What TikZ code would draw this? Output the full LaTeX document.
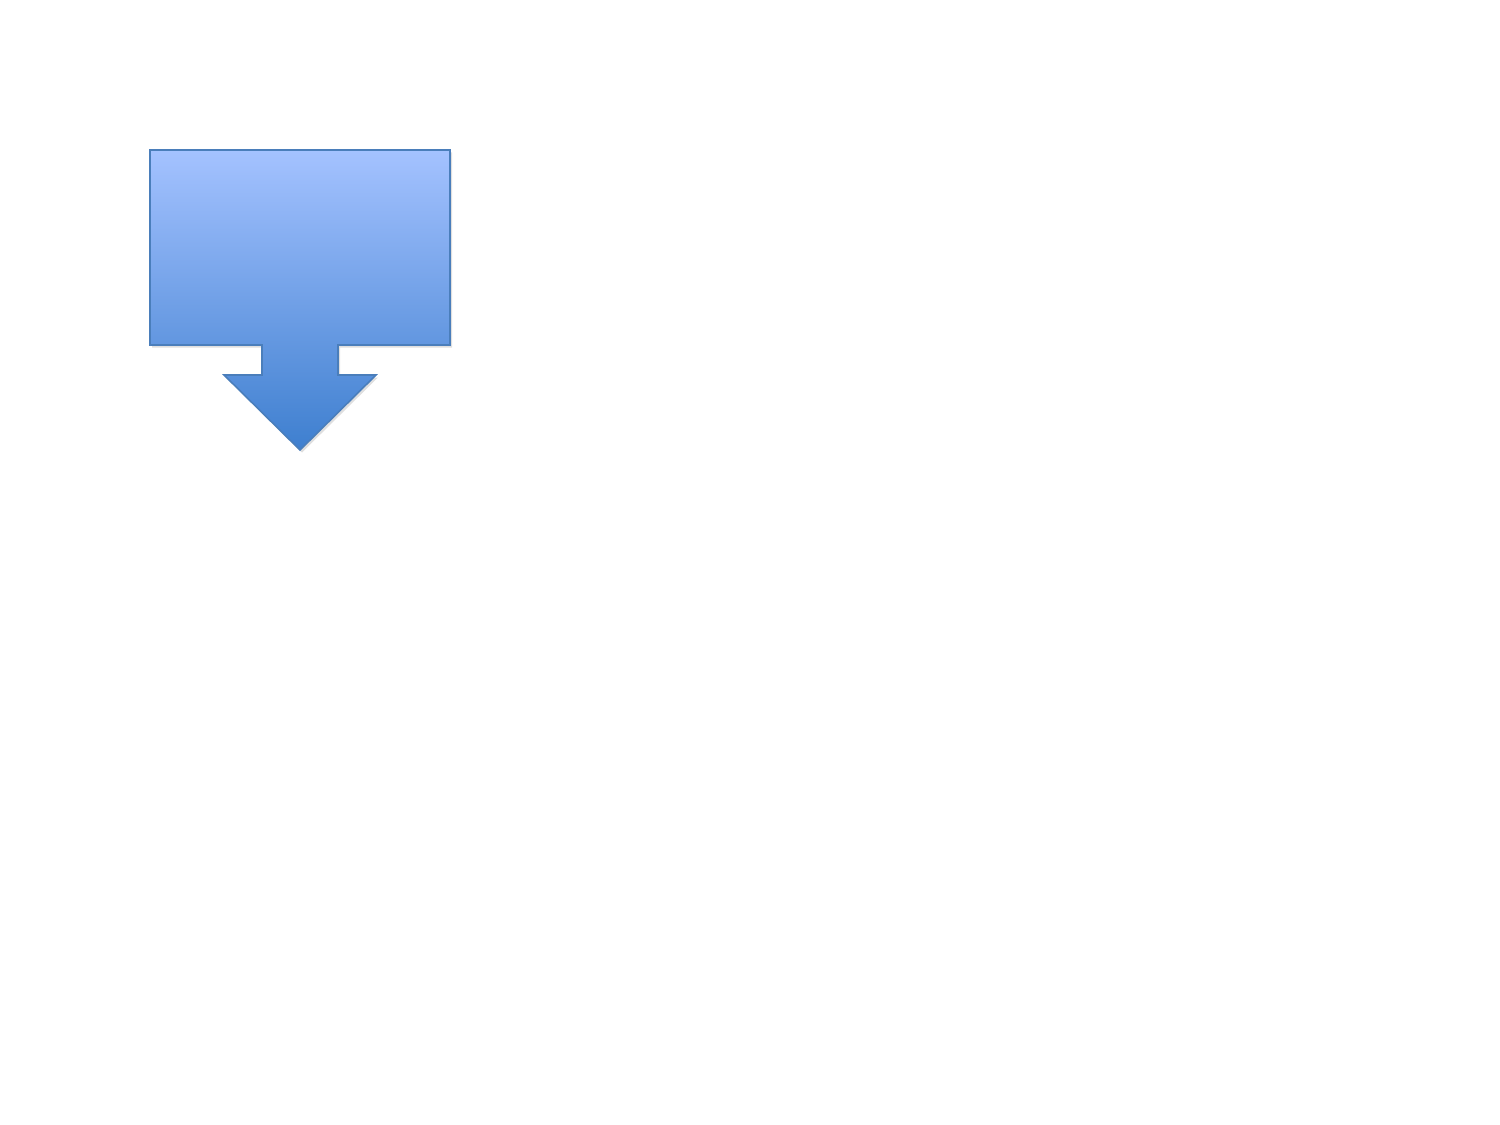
\documentclass[tikz,border=0pt]{standalone}
\usetikzlibrary{shadows}

\definecolor{calltop}{HTML}{A4C2FF}
\definecolor{callbottom}{HTML}{3E7FCF}
\definecolor{callline}{HTML}{4A7EBB}

\tikzset{
  callout/.style={draw=callline, line width=0.9pt, top color=calltop,
    bottom color=callbottom,
    drop shadow={shadow xshift=0.04cm, shadow yshift=-0.05cm, opacity=0.25}}
}

\begin{document}
\begin{tikzpicture}[x=0.02cm, y=-0.02cm]
  \useasboundingbox (0,0) rectangle (1500,1125);
  % box with arrow pointing down
  \draw[callout] (150,150) -- (450,150) -- (450,345) -- (338,345)
    -- (338,375) -- (376,375) -- (300,450) -- (224,375) -- (262,375)
    -- (262,345) -- (150,345) -- cycle;
\end{tikzpicture}
\end{document}
